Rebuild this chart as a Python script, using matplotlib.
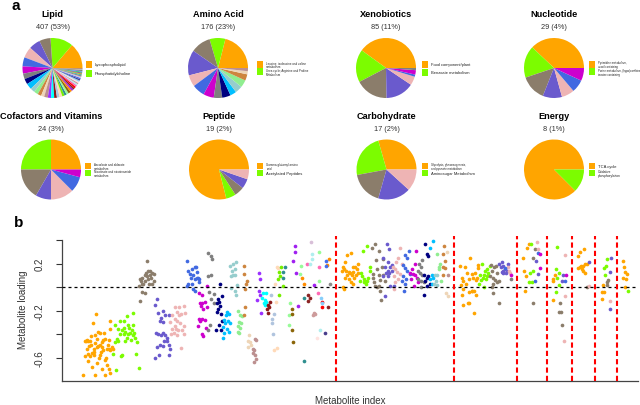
import matplotlib
matplotlib.use('Agg')
import matplotlib.pyplot as plt
import matplotlib.patches as mpatches

plt.rcParams['font.family'] = ['Liberation Sans', 'DejaVu Sans']

# colour per sub-pathway rank (same order in pies and scatter)
palette = ['#FFA500', '#7CFC00', '#8B7D6B', '#6A5ACD', '#EEB4B4', '#4169E1', '#CD00CD',
           '#7F7F7F', '#000080', '#00BFFF', '#96CDCD', '#90EE90', '#CD853F', '#EED5B7',
           '#BC8F8F', '#9B30FF', '#00FFFF', '#8B1A1A', '#B0C4DE', '#FFDAB9', '#76EE00',
           '#2F8F8F', '#98FB98', '#8B6508', '#FF8C00', '#A020F0', '#8B2323', '#FF0000',
           '#FF69B4', '#AFEEEE', '#CD9B9B', '#FFE4E1', '#87CEFA', '#483D8B', '#436EEE',
           '#D8BFD8', '#8B8989', '#20B2AA', '#CDAD00', '#8B4789', '#00CD66', '#8470FF',
           '#556B2F', '#FFC0CB', '#5F9EA0', '#EEEE00', '#8B0A50']

# ---- panel a: number of metabolites per sub-pathway ----
groups = ['Lipid', 'Amino Acid', 'Xenobiotics', 'Nucleotide',
          'Cofactors and Vitamins', 'Peptide', 'Carbohydrate', 'Energy']
lipid_n = [56, 50, 25, 25, 24, 20, 16, 12, 12, 13, 10, 9, 8, 7, 8, 7, 7, 6, 6, 6, 5, 5, 5, 5,
           4, 4, 4, 4, 4, 3, 3, 3, 3, 3, 3, 3, 3, 2, 2, 2, 2, 2, 2, 1, 1, 1, 1]
amino_n = [37, 15, 19, 24, 11, 12, 10, 8, 8, 6, 7, 7, 6, 3, 3]
xeno_n = [34, 15, 15, 13, 4, 1, 2, 1]
nucleo_n = [11, 5, 4, 3, 2, 2, 2]
cofactor_n = [6, 6, 4, 2, 3, 2, 1]
peptide_n = [15, 1, 1, 1, 1]
carbo_n = [5, 4, 3, 3, 2]
energy_n = [7, 1]

legend_names = [
    ['Lysophospholipid', 'Phosphatidylcholine'],
    ['Leucine, isoleucine and valine\nmetabolism', 'Urea cycle; Arginine and Proline\nMetabolism'],
    ['Food component/plant', 'Benzoate metabolism'],
    ['Pyrimidine metabolism,\nuracil containing', 'Purine metabolism, (hypo)xanthine/\ninosine containing'],
    ['Ascorbate and aldarate\nmetabolism', 'Nicotinate and nicotinamide\nmetabolism'],
    ['Gamma-glutamyl amino\nacid', 'Acetylated Peptides'],
    ['Glycolysis, gluconeogenesis,\nand pyruvate metabolism', 'Aminosugar Metabolism'],
    ['TCA cycle', 'Oxidative\nphosphorylation'],
]

# ---- panel b: loadings, one list per sub-pathway (x = metabolite index) ----
lipid_x = [
    [45, 41, 64, 33, 30, 32, 35, 37, 39, 44, 48, 50, 53, 55, 57, 62, 48, 51, 56, 64, 42, 46, 40, 35,
     30, 37, 42, 51, 55, 60, 62, 64, 66, 68, 35, 46, 57, 40, 53, 62, 64, 28, 44, 57, 33, 43, 53, 61,
     38, 47, 52, 58, 36, 49, 60, 44],
    [86, 94, 70, 77, 83, 88, 95, 80, 84, 88, 91, 93, 96, 82, 77, 73, 71, 75, 100, 97, 92, 84, 80,
     78, 68, 99, 102, 72, 82, 89, 74, 86, 94],
    [113, 104, 107, 110, 112, 114, 117, 120, 122, 119, 115, 111, 106, 103, 108, 116, 120, 107, 111,
     104, 113, 117, 105, 122],
    [127, 124, 128, 134, 137, 132, 131, 135, 142, 125, 128, 132, 134, 137, 140, 136, 131, 126, 135,
     142, 144, 129, 124, 143, 140],
    [151, 156, 162, 153, 159, 147, 156, 153, 157, 162, 150, 146, 152, 155, 160, 145, 149, 162, 153,
     159, 164, 151, 144],
    [166, 168, 173, 177, 180, 171, 175, 172, 177, 181, 168, 173, 166, 175, 177, 182, 179, 180, 182],
    [193, 183, 186, 184, 191, 185, 193, 188, 182, 187, 190, 184, 181, 192, 186, 186, 188],
    [195, 198, 200, 194, 199, 196, 202, 199, 197, 195, 203],
    [211, 213, 208, 209, 206, 211, 208, 206, 212, 213, 205, 212, 209],
    [220, 222, 218, 216, 221, 217, 215, 220, 222, 216, 214, 224],
    [224, 228, 232, 226, 230, 225, 228, 231, 233, 225, 230, 232],
    [234, 237, 240, 236, 239, 235, 237, 234, 236],
    [243, 243, 246, 245, 244, 244, 242],
    [249, 248, 251, 248, 252],
    [257, 259, 255, 256, 254, 257, 256, 259],
    [262, 264, 262, 264, 260, 265],
    [268, 272, 267, 270, 272, 269, 271],
    [274, 276, 273, 277, 275],
    [279, 282, 280, 280, 281],
    [286, 288, 284, 285, 283, 286],
    [292, 289, 291, 288, 294, 289],
    [297, 294, 295, 322, 323],
    [304, 303, 302, 319, 343, 342, 317],
    [307, 306, 306, 308],
    [320, 322, 356, 353],
    [310, 310, 308, 312, 314, 336],
    [328, 331, 328, 355],
    [347, 346],
    [326, 342, 341],
    [333, 333, 331, 344],
    [336, 335, 337],
    [340],
    [345, 346],
    [351],
    [352, 352],
    [332],
    [357],
]
lipid_y = [
    [-0.23, -0.31, -0.29, -0.45, -0.46, -0.46, -0.46, -0.46, -0.49, -0.48, -0.50, -0.49, -0.47,
     -0.45, -0.44, -0.45, -0.38, -0.39, -0.39, -0.36, -0.53, -0.51, -0.56, -0.57, -0.59, -0.59,
     -0.58, -0.58, -0.54, -0.53, -0.53, -0.54, -0.51, -0.53, -0.63, -0.65, -0.62, -0.68, -0.70,
     -0.70, -0.73, -0.75, -0.75, -0.75, -0.53, -0.55, -0.51, -0.49,
     -0.42, -0.44, -0.55, -0.60, -0.50, -0.60, -0.66, -0.41],
    [-0.25, -0.22, -0.32, -0.29, -0.29, -0.32, -0.32, -0.37, -0.38, -0.40, -0.39, -0.37, -0.39,
     -0.40, -0.40, -0.44, -0.47, -0.46, -0.47, -0.43, -0.45, -0.46, -0.58, -0.59, -0.57, -0.57,
     -0.69, -0.71, -0.35, -0.35, -0.36, -0.43, -0.41],
    [0.22, 0.07, 0.08, 0.10, 0.12, 0.14, 0.14, 0.12, 0.11, 0.08, 0.07, 0.05, 0.03, 0.01, 0.03,
     0.03, 0.03, -0.04, -0.05, -0.12, 0.09, 0.10, 0.05, 0.05],
    [-0.10, -0.15, -0.22, -0.20, -0.24, -0.26, -0.29, -0.30, -0.24, -0.39, -0.40, -0.41, -0.39,
     -0.41, -0.43, -0.46, -0.49, -0.51, -0.50, -0.49, -0.53, -0.58, -0.60, -0.58, -0.46],
    [-0.17, -0.17, -0.16, -0.21, -0.23, -0.24, -0.24, -0.29, -0.31, -0.33, -0.33, -0.36, -0.36,
     -0.37, -0.37, -0.40, -0.39, -0.40, -0.41, -0.52, -0.22, -0.27, -0.30],
    [0.22, 0.14, 0.15, 0.17, 0.13, 0.11, 0.10, 0.08, 0.07, 0.08, 0.03, 0.03, 0.01, -0.02, -0.03,
     0.04, 0.17, 0.08, 0.07],
    [0.01, -0.05, -0.07, -0.14, -0.13, -0.16, -0.17, -0.19, -0.27, -0.27, -0.28, -0.29, -0.33,
     -0.35, -0.40, -0.14, -0.42],
    [0.29, 0.26, 0.24, 0.09, 0.10, -0.04, -0.06, -0.10, -0.32, -0.37, -0.14],
    [0.03, -0.08, -0.10, -0.13, -0.14, -0.16, -0.19, -0.21, -0.23, -0.29, -0.37, -0.37, -0.32],
    [-0.21, -0.23, -0.24, -0.28, -0.29, -0.31, -0.34, -0.36, -0.38, -0.39, -0.43, -0.31],
    [0.18, 0.20, 0.21, 0.14, 0.15, 0.09, 0.10, 0.10, 0.02, -0.01, -0.03, -0.07],
    [-0.20, -0.24, -0.25, -0.30, -0.31, -0.33, -0.35, -0.38, -0.39],
    [0.18, 0.11, 0.05, 0.03, -0.02, -0.17, -0.24],
    [-0.41, -0.46, -0.47, -0.51, -0.49],
    [-0.44, -0.45, -0.53, -0.54, -0.56, -0.58, -0.64, -0.61],
    [0.12, 0.07, -0.03, -0.07, -0.11, -0.22],
    [-0.05, -0.05, -0.09, -0.11, -0.13, -0.14, -0.15],
    [-0.15, -0.17, -0.19, -0.13, -0.22],
    [-0.07, -0.23, -0.27, -0.31, -0.40],
    [0.17, 0.16, 0.03, -0.13, -0.54, -0.52],
    [0.17, 0.13, 0.09, 0.07, 0.01, -0.07],
    [0.17, 0.13, 0.08, -0.09, -0.63],
    [-0.14, -0.24, -0.32, 0.18, 0.05, 0.30, 0.11],
    [-0.19, -0.23, -0.37, -0.47],
    [0.08, 0.03, 0.24, 0.19],
    [0.35, 0.30, 0.22, 0.12, -0.16, 0.02],
    [-0.07, -0.09, -0.12, -0.17],
    [-0.13, -0.17],
    [0.20, 0.17, -0.05],
    [0.28, 0.24, 0.20, -0.37],
    [-0.22, -0.24, -0.23],
    [-0.43],
    [-0.09, -0.14],
    [-0.39],
    [0.22, 0.18],
    [0.38],
    [0.03],
]

amino_x = [
    [380, 385, 377, 374, 376, 373, 379, 382, 384, 380, 377, 386, 388, 391, 393, 395, 389, 392, 385,
     388, 374, 376, 382, 394, 388],
    [401, 407, 398, 400, 402, 404, 405, 403, 406, 397, 411, 410, 408],
    [417, 413, 423, 419, 414, 415, 422, 420, 426, 428, 424, 417, 420, 423, 431, 425, 428, 416, 424],
    [433, 436, 428, 435, 431, 437, 434, 432, 436, 440, 428, 434, 437, 430, 442, 440],
    [450, 448, 445, 441, 444, 446, 451, 448, 444, 442, 453, 443],
    [462, 457, 460, 454, 457, 460, 455, 453, 457, 456, 464, 459],
    [472, 471, 466, 464, 468, 471, 465, 473, 469, 474],
    [480, 476, 478, 475, 477, 480, 475, 478, 482, 478],
    [484, 486, 488, 483, 486, 488, 484, 486, 491, 482],
    [494, 491, 493, 491, 495, 493],
    [497, 500, 499, 496, 500],
    [500, 504, 502, 503, 505],
    [509, 508, 511, 508, 511, 508],
    [513, 512, 514],
    [515],
]
amino_y = [
    [0.27, 0.29, 0.21, 0.17, 0.15, 0.14, 0.14, 0.13, 0.12, 0.10, 0.08, 0.10, 0.17, 0.17, 0.15,
     0.20, 0.08, 0.10, 0.04, 0.03, 0.00, -0.02, 0.07, 0.12, 0.13],
    [0.31, 0.35, 0.12, 0.09, 0.07, 0.05, 0.03, 0.04, 0.05, 0.05, 0.17, 0.14, 0.08],
    [0.37, 0.33, 0.31, 0.23, 0.11, 0.08, 0.10, 0.15, 0.17, 0.24, 0.06, 0.01, 0.00, 0.01, 0.05,
     -0.11, 0.10, 0.04, -0.03],
    [0.37, 0.32, 0.25, 0.21, 0.17, 0.17, 0.14, 0.12, 0.12, 0.14, 0.09, 0.09, 0.01, -0.08, 0.01, 0.19],
    [0.33, 0.25, 0.21, 0.17, 0.15, 0.13, 0.11, 0.07, 0.04, -0.02, 0.20, 0.09],
    [0.31, 0.27, 0.25, 0.19, 0.16, 0.14, 0.09, 0.05, 0.03, -0.03, 0.11, 0.07],
    [0.31, 0.20, 0.15, 0.12, 0.11, 0.10, 0.07, 0.08, 0.01, 0.04],
    [0.23, 0.20, 0.17, 0.14, 0.12, 0.10, 0.07, 0.05, 0.04, 0.00],
    [0.37, 0.28, 0.26, 0.10, 0.08, 0.09, 0.05, 0.01, 0.03, -0.07],
    [0.39, 0.33, 0.10, 0.07, 0.08, 0.03],
    [0.10, 0.10, 0.05, 0.03, 0.02],
    [0.28, 0.20, 0.17, 0.15, 0.05],
    [0.35, 0.28, 0.22, 0.17, 0.16, 0.10],
    [0.30, -0.05, -0.08],
    [0.10],
]

xeno_x = [
    [531, 537, 544, 533, 540, 535, 539, 532, 534, 533, 542, 535, 541, 543, 549, 546, 549, 552, 548,
     553, 551, 543, 555, 547, 554, 552, 546],
    [560, 564, 566, 568, 563, 557, 561, 565, 567, 556, 562, 571, 559],
    [572, 576, 579, 573, 570, 574, 577, 580, 575, 573, 575, 582, 580, 583],
    [582, 586, 588, 585, 588, 591, 593, 588, 592, 594, 586],
    [595, 596, 597],
    [590],
    [598],
    [599],
]
xeno_y = [
    [0.18, 0.17, 0.25, 0.08, 0.12, 0.05, 0.03, 0.02, -0.02, -0.07, -0.04, -0.15, -0.14, -0.14,
     -0.22, -0.03, -0.03, -0.07, 0.08, 0.08, 0.12, 0.07, 0.16, 0.11, 0.19, 0.06, -0.03],
    [0.20, 0.14, 0.15, 0.12, 0.10, 0.10, 0.08, 0.07, 0.09, 0.03, 0.00, 0.18, 0.06],
    [0.19, 0.17, 0.18, 0.14, 0.09, 0.08, 0.06, 0.04, 0.03, 0.00, -0.05, -0.14, 0.12, 0.05],
    [0.20, 0.21, 0.18, 0.17, 0.14, 0.15, 0.14, 0.12, 0.12, 0.20, 0.13],
    [0.17, 0.14, 0.12],
    [0.16],
    [0.10],
    [0.07],
]

nucleo_x = [[622, 620, 615, 616, 619, 617], [625, 624, 623, 626, 628], [628, 631, 628],
            [632, 635], [633, 635], [635, 631], [637, 637]]
nucleo_y = [[0.37, 0.33, 0.25, 0.14, 0.09, -0.03], [0.37, 0.12, 0.04, 0.04, 0.14], [0.25, 0.32, -0.14],
            [0.22, 0.11], [0.38, 0.32], [0.29, 0.05], [0.28, 0.16]]

cofactor_x = [[654, 655, 655, 657], [660, 659, 662, 660, 663, 659], [664, 663, 665, 666],
              [668, 666], [671, 670, 669], [671], [672]]
cofactor_y = [[0.07, 0.05, -0.11, 0.10], [0.34, 0.15, 0.12, 0.08, 0.02, -0.04], [-0.14, -0.21, -0.21, -0.32],
              [0.10, 0.05], [0.27, -0.08, -0.46], [0.05], [0.10]]

peptide_x = [[690, 696, 688, 691, 688, 693, 695, 697, 700, 692, 694, 697], [], [700], [702], [703]]
peptide_y = [[0.30, 0.32, 0.26, 0.17, 0.16, 0.15, 0.18, 0.20, 0.20, 0.18, 0.14, 0.12], [], [0.00], [0.21], [0.01]]

carbo_x = [[721, 720, 723, 720], [726, 725, 723, 724], [727, 726, 728], [732, 731, 730], [731]]
carbo_y = [[0.02, -0.04, -0.04, -0.10], [0.24, 0.18, 0.16, 0.10], [0.04, 0.02, 0.06], [0.25, 0.13, -0.19], [-0.12]]

energy_x = [[748, 749, 751, 753, 752, 748, 751], [754]]
energy_y = [[0.22, 0.17, 0.13, 0.11, 0.07, 0.08, 0.00], [-0.03]]

boundaries = [365, 523, 607, 646, 680, 711, 740]

# ---- layout (pixels of a 640x406 canvas) ----
W, H = 640, 406
pie_counts = [lipid_n, amino_n, xeno_n, nucleo_n, cofactor_n, peptide_n, carbo_n, energy_n]
pie_centers = [(52.5, 69), (218, 69), (386, 69), (554, 69),
               (51, 170.5), (219, 170.5), (386.5, 170.5), (554, 170.5)]
legend_left = [1.12, 1.30, 1.19, 1.18, 1.14, 1.28, 1.19, 1.17]
legend_gap = [0.08, 0.02, 0.05, 0.02, 0.02, 0.02, 0.02, 0.02]
legend_fs = [[3.0, 3.0], [2.1, 2.1], [2.9, 2.9], [2.0, 2.0],
             [2.1, 2.1], [2.1, 3.0], [2.0, 3.0], [3.0, 2.3]]
grand_total = sum(sum(c) for c in pie_counts)

fig = plt.figure(figsize=(6.4, 4.06), dpi=100)
R = 30
for k, counts in enumerate(pie_counts):
    cx, cy = pie_centers[k]
    ax = fig.add_axes([(cx - R) / W, (H - cy - R) / H, 2 * R / W, 2 * R / H])
    ax.pie(counts, colors=palette[:len(counts)], startangle=0, counterclock=True,
           wedgeprops=dict(linewidth=0))
    ax.set_xlim(-1, 1)
    ax.set_ylim(-1, 1)
    ax.set_axis_off()
    ax.text(0, 1.8, groups[k], ha='center', va='center', fontsize=6.6,
            fontweight='bold', clip_on=False)
    total = sum(counts)
    ax.text(0, 1.37, '{} ({}%)'.format(total, round(100 * total / grand_total)),
            ha='center', va='center', fontsize=5.3, color='#333333', clip_on=False)
    for i, name in enumerate(legend_names[k]):
        top = 0.23 - i * (0.22 + legend_gap[k])
        ax.add_patch(mpatches.Rectangle((legend_left[k], top - 0.22), 0.2, 0.22,
                                        facecolor=palette[i], edgecolor='none', clip_on=False))
        ax.text(legend_left[k] + 0.3, top - 0.11, name, ha='left', va='center',
                fontsize=legend_fs[k][i], color='#222222', linespacing=1.0, clip_on=False)

# ---- scatter panel ----
ax = fig.add_axes([62 / W, (H - 382) / H, 576 / W, 148 / H])
all_x = [lipid_x, amino_x, xeno_x, nucleo_x, cofactor_x, peptide_x, carbo_x, energy_x]
all_y = [lipid_y, amino_y, xeno_y, nucleo_y, cofactor_y, peptide_y, carbo_y, energy_y]
for gx, gy in zip(all_x, all_y):
    for i, (xs, ys) in enumerate(zip(gx, gy)):
        if xs:
            ax.scatter(xs, ys, s=7, color=palette[i], linewidths=0, zorder=2)

ax.axhline(0, color='black', linestyle=(0, (2.4, 2.4)), linewidth=0.9, zorder=3)
ax.vlines(boundaries, -0.8, 0.435, colors='red', linestyles=(0, (2.5, 1.5)),
          linewidth=1.5, zorder=3)

ax.set_xlim(0, 768)
ax.set_ylim(-0.8, 0.46)
ax.set_xticks([])
ax.set_yticks([-0.6, -0.4, -0.2, 0.0, 0.2, 0.4])
ax.set_yticklabels(['-0.6', '', '-0.2', '', '0.2', ''], rotation=90, va='center')
ax.tick_params(axis='y', length=4.3, width=0.8, pad=8.5, labelsize=7, colors='#333333')
for side in ['top', 'right']:
    ax.spines[side].set_visible(False)
ax.spines['left'].set_bounds(-0.8, 0.4)
for side in ['left', 'bottom']:
    ax.spines[side].set_color('#444444')
    ax.spines[side].set_linewidth(0.9)
ax.patch.set_visible(False)

fig.text(23 / W, 1 - 310 / H, 'Metabolite loading', rotation=90, ha='center', va='center',
         fontsize=7, color='#333333')
fig.text(350 / W, 1 - 401 / H, 'Metabolite index', ha='center', va='center',
         fontsize=7, color='#333333')

fig.text(12 / W, 1 - 10 / H, 'a', fontsize=11, fontweight='bold', va='baseline')
fig.text(14 / W, 1 - 227.5 / H, 'b', fontsize=11, fontweight='bold', va='baseline')

fig.savefig('out.png', dpi=100)
